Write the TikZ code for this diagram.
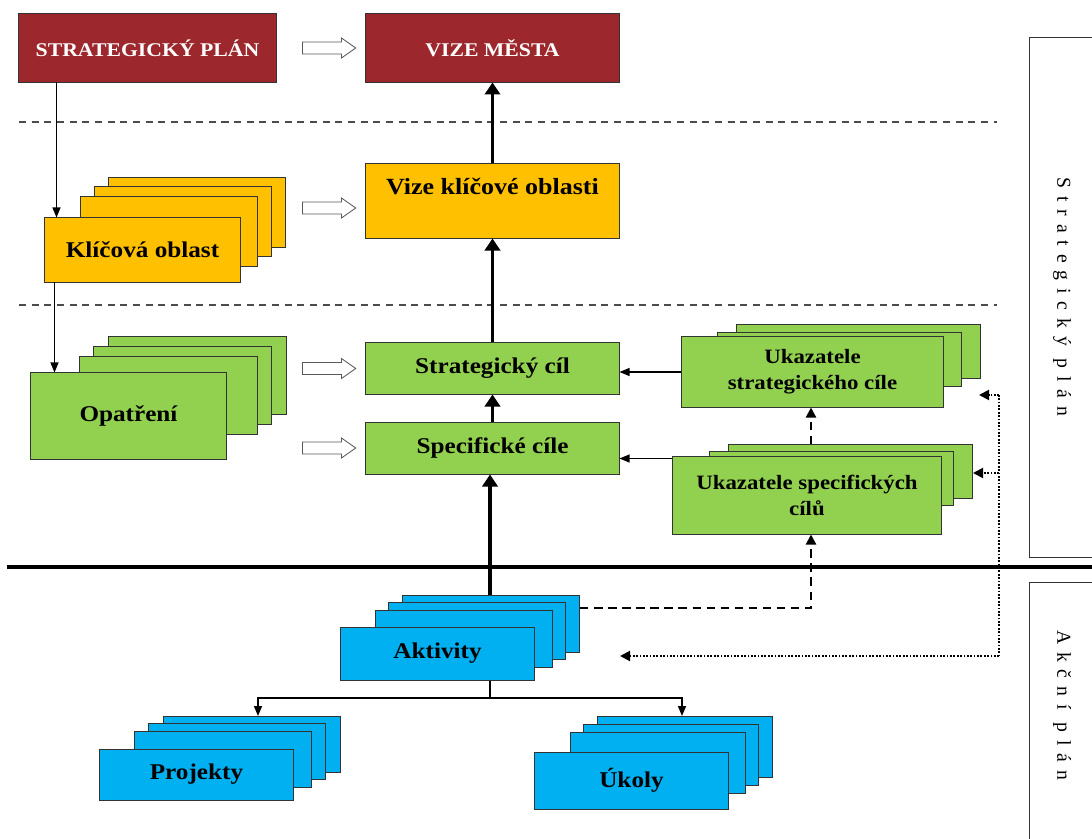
\documentclass[tikz,border=0pt]{standalone}
\usepackage{fontspec}
\setmainfont{Liberation Serif}[FakeStretch=1.12]
\newfontfamily\sidefont{Liberation Serif}[LetterSpace=40]
\usepackage{xcolor}
\usepackage{tikz}
\usetikzlibrary{shapes.arrows, arrows.meta, positioning, calc}
\definecolor{cityred}{RGB}{156,40,45}
\definecolor{areagold}{RGB}{255,192,0}
\definecolor{goalgreen}{RGB}{146,208,80}
\definecolor{actblue}{RGB}{0,176,240}
\tikzset{
    card/.style={rectangle, draw=black!80, line width=0.7pt, align=center, inner sep=2pt, font=\fontsize{16}{19}\selectfont\bfseries},
    backcard/.style={draw=black!80, line width=0.7pt},
    redbox/.style={card, fill=cityred, text=white, font=\fontsize{13.8}{16}\selectfont\bfseries, minimum width=6.425cm, minimum height=1.7cm},
    indicator/.style={card, fill=goalgreen, font=\fontsize{14.5}{18.5}\selectfont\bfseries},
    hollow/.style={single arrow, draw=black!65, fill=white, line width=0.6pt, minimum height=1.33cm, single arrow head extend=0.1cm, single arrow tip angle=70, inner xsep=0pt, inner ysep=0.14cm},
    bigarrow/.style={-{Triangle[length=0.3cm,width=0.38cm]}, line width=2.8pt},
    smallarrow/.style={-{Triangle[length=0.25cm,width=0.2cm]}, line width=0.8pt},
    dasharrow/.style={-{Triangle[length=0.25cm,width=0.25cm]}, line width=1.5pt, dash pattern=on 6pt off 4pt},
    dotarrow/.style={-{Triangle[length=0.25cm,width=0.25cm]}, line width=1.4pt, dash pattern=on 1.2pt off 1.2pt},
    dotline/.style={line width=1.4pt, dash pattern=on 1.2pt off 1.2pt},
    treeline/.style={line width=1.1pt},
    treearrow/.style={treeline, -{Triangle[length=0.25cm,width=0.2cm]}},
    separator/.style={draw=black!70, line width=0.8pt, dash pattern=on 5pt off 4pt},
    divider/.style={line width=2.2pt},
    panel/.style={draw=black!80, line width=0.7pt},
    sidelabel/.style={rotate=-90, font=\sidefont\fontsize{14}{16}\selectfont}
}

\begin{document}
\begin{tikzpicture}[x=0.025cm, y=-0.025cm]
    \useasboundingbox (0,0) rectangle (1092,839);

    % top level
    \node[redbox] (strat) at (147.5,48) {STRATEGICKÝ PLÁN};
    \node[redbox, minimum width=6.325cm] (vize) at (492.5,48) {VIZE MĚSTA};
    \node[hollow, left=0.225cm of vize] (arrvize) {};

    \draw[separator] (19,122) -- (997,122);
    \draw[separator] (19,305) -- (997,305);

    % key areas
    \foreach \k in {2,1,0}
        \draw[backcard, fill=areagold] (80+14*\k,196-9.5*\k) rectangle ++(177,70);
    \node[card, fill=areagold, minimum width=4.875cm, minimum height=1.6cm] (kob) at (142.5,250) {Klíčová oblast};
    \node[card, fill=areagold, font=\fontsize{16.5}{19}\selectfont\bfseries, minimum width=6.325cm, minimum height=1.85cm, text depth=0.75cm] (vizek) at (492.5,201) {Vize klíčové oblasti};
    \node[hollow, left=0.225cm of vizek, yshift=-0.175cm] (arrvizek) {};

    % goals
    \foreach \k in {2,1,0}
        \draw[backcard, fill=goalgreen] (79+14.5*\k,356-10*\k) rectangle ++(178,78);
    \node[card, fill=goalgreen, minimum width=4.875cm, minimum height=2.15cm] (opat) at (128.5,416) {Opatření};
    \node[card, fill=goalgreen, minimum width=6.325cm, minimum height=1.275cm] (scil) at (492.5,368.5) {Strategický cíl};
    \node[card, fill=goalgreen, minimum width=6.325cm, minimum height=1.3cm] (spec) at (492.5,448) {Specifické cíle};
    \node[hollow, left=0.225cm of scil] (arrscil) {};
    \node[hollow, left=0.225cm of spec] (arrspec) {};

    \foreach \k in {1,0}
        \draw[backcard, fill=goalgreen] (717+19*\k,332-8*\k) rectangle ++(244,54);
    \node[indicator, minimum width=6.525cm, minimum height=1.75cm] (ukstrat) at (812.5,372) {Ukazatele\\strategického cíle};
    \foreach \k in {1,0}
        \draw[backcard, fill=goalgreen] (709+19*\k,451-7*\k) rectangle ++(244,54);
    \node[indicator, minimum width=6.7cm, minimum height=1.925cm] (ukspec) at (807,495.5) {Ukazatele specifických\\cílů};

    % action plan
    \foreach \k in {2,1,0}
        \draw[backcard, fill=actblue] (375+13.5*\k,610-7.5*\k) rectangle ++(177,57);
    \node[card, fill=actblue, minimum width=4.825cm, minimum height=1.325cm] (akt) at (437.5,653.5) {Aktivity};
    \foreach \k in {2,1,0}
        \draw[backcard, fill=actblue] (134+14.5*\k,731-7.5*\k) rectangle ++(177,56);
    \node[card, fill=actblue, minimum width=4.825cm, minimum height=1.275cm] (proj) at (196.5,774.5) {Projekty};
    \foreach \k in {2,1,0}
        \draw[backcard, fill=actblue] (570+13.5*\k,732-8*\k) rectangle ++(175,61);
    \node[card, fill=actblue, minimum width=4.825cm, minimum height=1.425cm] (ukoly) at (631.5,780.5) {Úkoly};

    \draw[divider] (7,567) -- (1092,567);

    % side panels
    \draw[panel] (1029,37) rectangle (1110,557);
    \node[sidelabel] (stratlabel) at (1062,297) {Strategický plán};
    \draw[panel] (1029,582) rectangle (1110,860);
    \node[sidelabel] (akcelabel) at (1062,705) {Akční plán};

    % connectors
    \coordinate (kobin) at ([xshift=0.3cm]kob.north west);
    \coordinate (opatin) at ([xshift=0.6cm]opat.north west);
    \coordinate (akttop) at (490,595);
    \coordinate (aktright) at (580,608);
    \coordinate (treejoint) at (490,698);
    \coordinate (projin) at (258,716);
    \coordinate (ukolyin) at (682,716);
    \coordinate (ukspectop) at (811,444);
    \coordinate (dottop) at (999,395);
    \coordinate (dotmid) at (999,473);
    \coordinate (dotbot) at (999,656);
    \coordinate (dottip1) at (979,395);
    \coordinate (dottip2) at (973,473);
    \coordinate (dottip3) at (620,656);

    \draw[smallarrow] (strat.south -| kobin) -- (kobin);
    \draw[smallarrow] (kob.south -| opatin) -- (opatin);

    \draw[bigarrow] (vizek) -- (vize);
    \draw[bigarrow] (scil) -- (vizek);
    \draw[bigarrow] (spec) -- (scil);
    \draw[bigarrow] (akttop) -- (akttop |- spec.south);

    \draw[smallarrow] (ukstrat.west) -- (ukstrat.west -| scil.east);
    \draw[smallarrow] ([yshift=-0.05cm]ukspec.north west) -- ([yshift=-0.05cm]ukspec.north west -| spec.east);

    \draw[dasharrow] (ukspectop) -- (ukspectop |- ukstrat.south);
    \draw[dasharrow] (aktright) -| (ukspectop |- ukspec.south);

    \draw[dotline] (dottop) -- (dotbot);
    \draw[dotarrow] (dottop) -- (dottip1);
    \draw[dotarrow] (dotmid) -- (dottip2);
    \draw[dotarrow] (dotbot) -- (dottip3);

    \draw[treeline] (akt.south -| treejoint) -- (treejoint);
    \draw[treearrow] (treejoint) -| (projin);
    \draw[treearrow] (treejoint) -| (ukolyin);
\end{tikzpicture}
\end{document}
